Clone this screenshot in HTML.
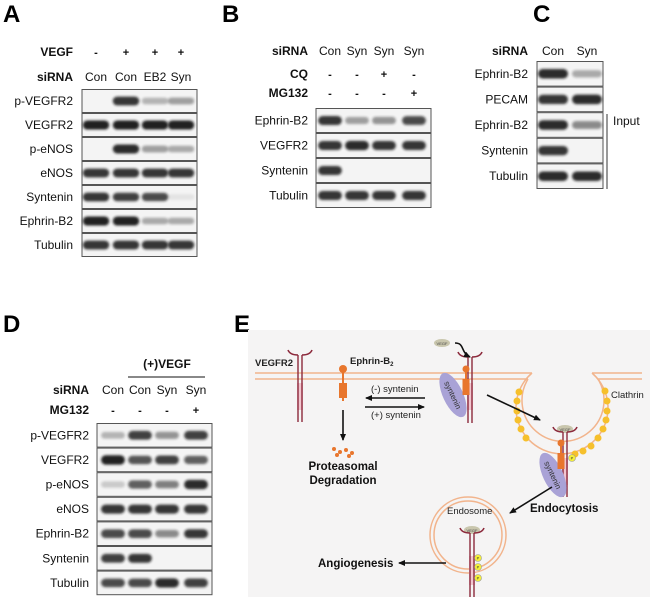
<!DOCTYPE html>
<html><head><meta charset="utf-8"><style>
html,body{margin:0;padding:0;background:#fff;}
svg{display:block;font-family:"Liberation Sans",Arial,sans-serif;}
</style></head><body>
<svg id="s" width="650" height="601" viewBox="0 0 650 601" xmlns="http://www.w3.org/2000/svg">
<defs>
<filter id="bl" x="-20%" y="-100%" width="140%" height="300%"><feGaussianBlur stdDeviation="1.3"/></filter>
<marker id="ar" markerWidth="8" markerHeight="8" refX="6" refY="3" orient="auto" markerUnits="userSpaceOnUse"><path d="M0,0 L7,3 L0,6 z" fill="#111"/></marker>
</defs>
<g font-weight="bold" font-size="24" fill="#000">
<text x="3" y="22">A</text><text x="222" y="22">B</text><text x="533" y="22">C</text><text x="3" y="332">D</text><text x="234" y="332">E</text>
</g>
<g id="blots"></g>
<rect x="248" y="330" width="402" height="267" fill="#f5f4f4"/>
<g fill="none" stroke="#f2b48c" stroke-width="1.5">
<path d="M255,373 H532 M255,379 H528"/>
<path d="M592,373 H642 M598,379 H642"/>
<path d="M532,373 A46,46 0 1 0 592,373"/>
<path d="M528,379 A41,41 0 1 0 598,379" />
<circle cx="468" cy="535" r="38"/><circle cx="468" cy="535" r="34"/>
</g>
<g fill="#f6c02c">
<circle cx="519" cy="392" r="3.5"/><circle cx="517" cy="401" r="3.5"/><circle cx="517" cy="411" r="3.5"/><circle cx="518" cy="420" r="3.5"/><circle cx="521" cy="429" r="3.5"/><circle cx="526" cy="438" r="3.5"/>
<circle cx="605" cy="391" r="3.5"/><circle cx="607" cy="401" r="3.5"/><circle cx="607" cy="411" r="3.5"/><circle cx="606" cy="420" r="3.5"/><circle cx="603" cy="429" r="3.5"/><circle cx="598" cy="438" r="3.5"/><circle cx="591" cy="446" r="3.5"/><circle cx="583" cy="451" r="3.5"/><circle cx="575" cy="454" r="3.5"/>
</g>
<g id="recs"></g>
<g fill="#e8762d">
<circle cx="343" cy="369" r="4"/><rect x="342" y="369" width="2" height="32"/><rect x="339" y="383" width="8" height="15"/>
<circle cx="334" cy="449" r="2"/><circle cx="340" cy="452" r="2"/><circle cx="346" cy="450" r="2"/><circle cx="352" cy="453" r="2"/><circle cx="337" cy="455" r="2"/><circle cx="349" cy="456" r="2"/>
</g>
<g stroke="#111" stroke-width="1.6" fill="none" marker-end="url(#ar)">
<line x1="343" y1="410" x2="343" y2="440"/>
<line x1="425" y1="398" x2="366" y2="398"/>
<line x1="365" y1="407" x2="424" y2="407"/>
<line x1="487" y1="395" x2="540" y2="420"/>
<line x1="552" y1="487" x2="510" y2="513"/>
<line x1="446" y1="563" x2="399" y2="563"/>
<path d="M455,343 C465,343 460,352 470,357"/>
</g>
<g font-size="9.5" fill="#222">
<text x="255" y="366" font-weight="bold">VEGFR2</text>
<text x="350" y="364" font-weight="bold">Ephrin-B<tspan font-size="6" dy="2">2</tspan></text>
<text x="371" y="392">(-) syntenin</text>
<text x="371" y="418">(+) syntenin</text>
<text x="611" y="398">Clathrin</text>
<text x="447" y="514">Endosome</text>
</g>
<g font-size="11.5" font-weight="bold" fill="#111">
<text x="343" y="470" text-anchor="middle">Proteasomal</text>
<text x="343" y="484" text-anchor="middle">Degradation</text>
<text x="530" y="512">Endocytosis</text>
<text x="318" y="567">Angiogenesis</text>
</g>
</svg>
<script>
var NS="http://www.w3.org/2000/svg";
function el(p,t,a,txt){var e=document.createElementNS(NS,t);for(var k in a)e.setAttribute(k,a[k]);if(txt!=null)e.textContent=txt;p.appendChild(e);return e;}
var g=document.getElementById("blots");
function blot(x0,x1,y0,rh,lanes,rows,labx){
 rows.forEach(function(r,i){
  var y=y0+i*rh;
  el(g,"rect",{x:x0,y:y+0.5,width:x1-x0,height:rh-1,fill:"#f4f4f4",stroke:"#555","stroke-width":1});
  el(g,"text",{x:labx,y:y+rh/2+4,"text-anchor":"end","font-size":"12",fill:"#111"},r[0]);
  r[1].forEach(function(v,j){ if(v<=0.05)return;
   var w=(lanes[1]-lanes[0])*0.88, h=rh*0.22+rh*0.16*v;
   el(g,"rect",{x:lanes[j]-w/2,y:y+rh/2-h/2,width:w,height:h,rx:h/2,fill:"#151515",opacity:Math.min(1,v*0.95),filter:"url(#bl)"});
  });
 });
}
function hdr(lab,x,y,lanes,vals){
 el(g,"text",{x:x,y:y,"text-anchor":"end","font-size":"12","font-weight":"bold",fill:"#111"},lab);
 vals.forEach(function(v,j){el(g,"text",{x:lanes[j],y:y,"text-anchor":"middle","font-size":(v.length>1?"12":"11"),"font-weight":(v.length>1?"normal":"bold"),fill:"#111"},v);});
}
var LA=[96,126,155,181];
hdr("VEGF",73,56,LA,["-","+","+","+"]);hdr("siRNA",73,81,LA,["Con","Con","EB2","Syn"]);
blot(82,197,89,24,LA,[["p-VEGFR2",[0,.9,.3,.4]],["VEGFR2",[1,1,1,1]],["p-eNOS",[0,.95,.4,.35]],["eNOS",[.9,.9,.9,.9]],["Syntenin",[.9,.85,.8,.08]],["Ephrin-B2",[1,1,.35,.35]],["Tubulin",[.9,.9,.9,.9]]],73);
var LB=[330,357,384,414];
hdr("siRNA",308,55,LB,["Con","Syn","Syn","Syn"]);hdr("CQ",308,78,LB,["-","-","+","-"]);hdr("MG132",308,97,LB,["-","-","-","+"]);
blot(316,431,108,25,LB,[["Ephrin-B2",[.9,.4,.45,.8]],["VEGFR2",[.9,.95,.9,.9]],["Syntenin",[.9,0,0,0]],["Tubulin",[.9,.9,.9,.9]]],308);
var LC=[553,587];
hdr("siRNA",528,55,LC,["Con","Syn"]);
blot(537,603,61,25.6,LC,[["Ephrin-B2",[.95,.35]],["PECAM",[.9,.95]],["Ephrin-B2",[.95,.5]],["Syntenin",[.9,0]],["Tubulin",[.95,.95]]],528);
el(g,"line",{x1:607,y1:114,x2:607,y2:189,stroke:"#333","stroke-width":1});
el(g,"text",{x:613,y:125,"font-size":"12",fill:"#111"},"Input");
var LD=[113,140,167,196];
el(g,"text",{x:167,y:368,"text-anchor":"middle","font-size":"12","font-weight":"bold",fill:"#111"},"(+)VEGF");
el(g,"line",{x1:128,y1:377,x2:205,y2:377,stroke:"#111","stroke-width":1});
hdr("siRNA",89,394,LD,["Con","Con","Syn","Syn"]);hdr("MG132",89,414,LD,["-","-","-","+"]);
blot(97,212,423,24.6,LD,[["p-VEGFR2",[.3,.85,.45,.85]],["VEGFR2",[1,.75,.85,.7]],["p-eNOS",[.2,.7,.55,.95]],["eNOS",[.9,.9,.9,.9]],["Ephrin-B2",[.8,.8,.5,.9]],["Syntenin",[.85,.9,0,0]],["Tubulin",[.8,.8,.95,.85]]],89);
var r=document.getElementById("recs");
function rec(x,top,bot,pink0,pink1){
 el(r,"rect",{x:x-3,y:pink0,width:6,height:pink1-pink0,fill:"#f2c6cf"});
 el(r,"path",{d:"M"+(x-2)+","+top+" V"+bot+" M"+(x+2)+","+top+" V"+bot,stroke:"#8c2a3c","stroke-width":1.4,fill:"none"});
 el(r,"path",{d:"M"+(x-12)+","+(top-5)+" Q"+(x-10)+","+top+" "+(x-2)+","+top+" M"+(x+12)+","+(top-5)+" Q"+(x+10)+","+top+" "+(x+2)+","+top,stroke:"#8c2a3c","stroke-width":1.6,fill:"none"});
}
function vegf(x,y){el(r,"ellipse",{cx:x,cy:y,rx:8,ry:4,fill:"#c9c6ad"});el(r,"text",{x:x,y:y+2,"text-anchor":"middle","font-size":"4",fill:"#444"},"VEGF");}
function P(x,y){el(r,"circle",{cx:x,cy:y,r:3.5,fill:"#f4ef3a",stroke:"#999","stroke-width":.6});el(r,"text",{x:x,y:y+1.6,"text-anchor":"middle","font-size":"4",fill:"#333"},"P");}
function syn(x,y){var gg=el(r,"g",{transform:"translate("+x+","+y+") rotate(-25)"});el(gg,"ellipse",{cx:0,cy:0,rx:10,ry:24,fill:"#a9a2d6"});el(gg,"text",{x:0,y:0,"text-anchor":"middle","font-size":"8",fill:"#333",transform:"rotate(90) translate(0,3)"},"syntenin");}
function eph(x,y){el(r,"circle",{cx:x,cy:y,r:3.5,fill:"#e8762d"});el(r,"rect",{x:x-1,y:y,width:2,height:22,fill:"#e8762d"});el(r,"rect",{x:x-3.5,y:y+10,width:7,height:16,fill:"#e8762d"});}
rec(300,355,422,383,410);
rec(470,357,423,383,410); syn(453,395); eph(466,369);
vegf(565,429); rec(565,432,497,458,485); syn(553,475); eph(561,443); P(572,458);
vegf(472,530); rec(472,533,597,556,585); P(478,558);P(478,567);P(478,578);
vegf(442,343);
</script>
</body></html>
